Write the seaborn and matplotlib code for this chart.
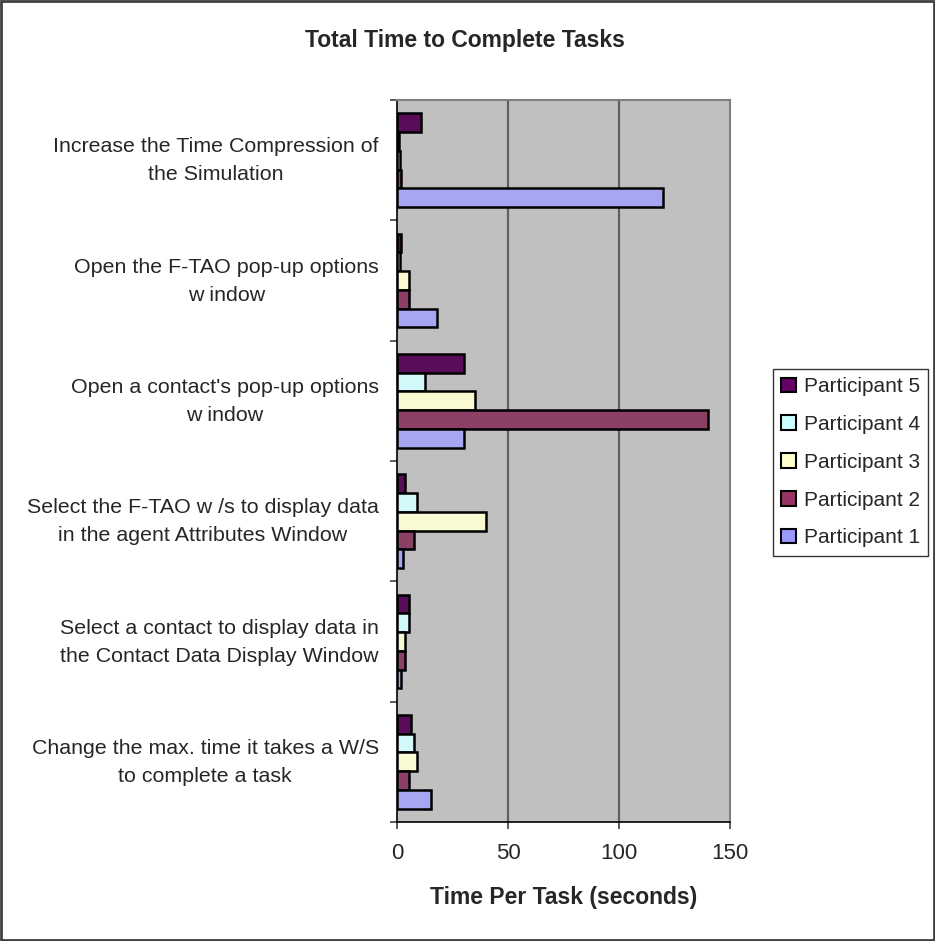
"""Total time to complete tasks, one horizontal bar per participant per task."""

import matplotlib

matplotlib.use("Agg")
import matplotlib.pyplot as plt
import matplotlib.transforms as mtransforms
import pandas as pd
import seaborn as sns
from matplotlib.patches import Patch, Rectangle

# Tasks in display order, top to bottom
TASKS = [
	"Increase the Time Compression of\nthe Simulation",
	"Open the F-TAO pop-up options\nw indow",
	"Open a contact's pop-up options\nw indow",
	"Select the F-TAO w /s to display data\nin the agent Attributes Window",
	"Select a contact to display data in\nthe Contact Data Display Window",
	"Change the max. time it takes a W/S\nto complete a task",
]
PARTICIPANTS = ["Participant 1", "Participant 2", "Participant 3", "Participant 4", "Participant 5"]

# seconds per task, one list per participant (same order as TASKS)
P1 = [120, 18, 30, 2.5, 2, 15.5]
P2 = [2, 5.5, 140, 7.5, 3.5, 5.5]
P3 = [1.5, 5.5, 35, 40, 3.5, 9]
P4 = [1, 1.5, 12.5, 9, 5.5, 7.5]
P5 = [11, 2, 30, 3.5, 5.5, 6.5]

X_TICKS = [0, 50, 100, 150]

COLOURS = {
	"Participant 1": "#9999FF",
	"Participant 2": "#993366",
	"Participant 3": "#FFFFCC",
	"Participant 4": "#CCFFFF",
	"Participant 5": "#660066",
}

sns.set_style("white")
plt.rcParams["font.family"] = ["Liberation Sans", "DejaVu Sans"]

rows = []
for name, values in zip(PARTICIPANTS, [P1, P2, P3, P4, P5]):
	for task, v in zip(TASKS, values):
		rows.append({"task": task, "participant": name, "seconds": v})
df = pd.DataFrame(rows)

hue_order = PARTICIPANTS[::-1]

fig = plt.figure(figsize=(9.35, 9.41), dpi=100)
ax = fig.add_axes([397 / 935, 1 - 822 / 941, 333 / 935, 722 / 941])
ax.set_facecolor("#C0C0C0")

sns.barplot(
	data=df,
	x="seconds",
	y="task",
	hue="participant",
	hue_order=hue_order,
	order=TASKS,
	palette=COLOURS,
	orient="h",
	width=0.78,
	edgecolor="black",
	linewidth=1.8,
	ax=ax,
	legend=False,
	zorder=3,
)

ax.set_xlim(0, 150)
ax.set_ylim(len(TASKS) - 0.5, -0.5)
ax.set_xticks(X_TICKS)
for x in X_TICKS[1:-1]:
	ax.axvline(x, color="#606060", linewidth=1.6, zorder=1)

# category boundary ticks like the spreadsheet original
ax.set_yticks([i - 0.5 for i in range(len(TASKS) + 1)], minor=True)
ax.tick_params(axis="y", which="minor", left=True, length=5, width=1.2, color="#404040")
ax.tick_params(axis="y", which="major", left=False, length=0, pad=13, labelsize=15.4)
ax.tick_params(axis="x", bottom=True, length=5, width=1.2, color="#404040", pad=10, labelsize=16)
# nudge the two-line task labels up a little, as in the original
nudge = mtransforms.ScaledTranslation(0, 6 / 100, fig.dpi_scale_trans)
for lbl in ax.get_yticklabels():
	lbl.set_multialignment("center")
	lbl.set_linespacing(1.6)
	lbl.set_transform(lbl.get_transform() + nudge)

for side in ["left", "bottom"]:
	ax.spines[side].set_color("black")
	ax.spines[side].set_linewidth(1.2)
for side in ["top", "right"]:
	ax.spines[side].set_color("#808080")
	ax.spines[side].set_linewidth(1.5)

ax.set_ylabel("")
ax.set_xlabel("Time Per Task (seconds)", fontsize=16.5, fontweight="bold", labelpad=16)

handles = [Patch(facecolor=COLOURS[p], edgecolor="black", linewidth=1.5, label=p) for p in hue_order]
fig.legend(
	handles=handles,
	loc="upper left",
	bbox_to_anchor=(773 / 935, 1 - 369 / 941),
	borderaxespad=0,
	frameon=True,
	fancybox=False,
	edgecolor="black",
	fontsize=15,
	handlelength=0.72,
	handleheight=0.72,
	handletextpad=0.35,
	labelspacing=0.9,
	borderpad=0.4,
).get_frame().set_linewidth(1.0)

fig.text(465 / 935, 1 - 40 / 941, "Total Time to Complete Tasks", ha="center", va="center",
	fontsize=16.5, fontweight="bold")

fig.patches.append(Rectangle((0.001, 0.001), 0.998, 0.998, transform=fig.transFigure,
	fill=False, edgecolor="#404040", linewidth=2))

fig.savefig("out.png", dpi=100)
plt.close(fig)
